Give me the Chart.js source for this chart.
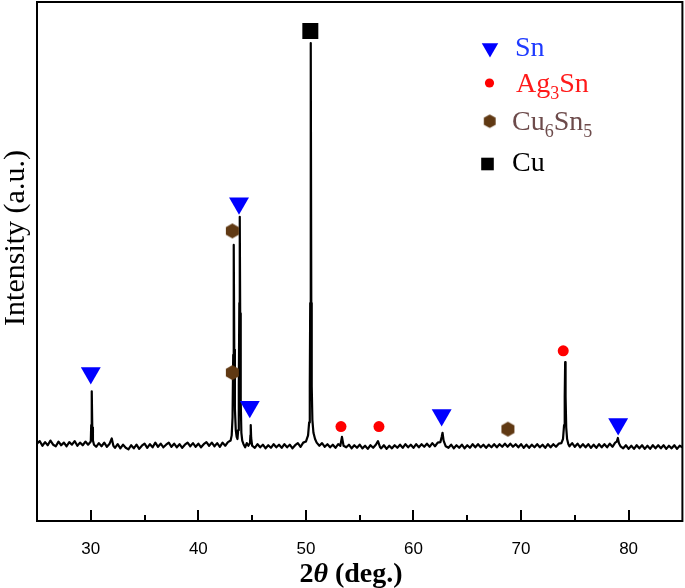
<!DOCTYPE html>
<html>
<head>
<meta charset="utf-8">
<script src="https://cdn.jsdelivr.net/npm/chart.js@4.4.1/dist/chart.umd.min.js"></script>
<style>
html,body{margin:0;padding:0;background:#fff;}
#wrap{width:685px;height:588px;}
</style>
</head>
<body>
<div id="wrap"><canvas id="c" width="685" height="588"></canvas></div>
<script>
// ---- Data ----
const twoTheta = [
25.00,25.25,25.50,25.75,26.00,26.25,26.50,26.75,27.00,27.25,27.50,27.75,28.00,28.25,28.50,28.75,29.00,29.25,29.50,29.75,
30.00,30.04,30.09,30.14,30.20,30.30,30.50,30.75,31.00,31.25,31.50,31.75,31.95,32.10,32.25,32.50,32.75,33.00,33.25,33.50,33.75,
34.00,34.25,34.50,34.75,35.00,35.25,35.50,35.75,36.00,36.25,36.50,36.75,37.00,37.25,37.50,37.75,38.00,38.25,38.50,38.75,
39.00,39.25,39.50,39.75,40.00,40.25,40.50,40.75,41.00,41.25,41.50,41.75,42.00,42.25,42.50,42.75,43.00,
43.10,43.18,43.24,43.29,43.34,43.40,43.48,43.56,43.64,43.70,43.76,43.81,43.85,43.89,43.94,44.00,44.08,44.20,44.35,44.50,44.65,
44.80,44.84,44.87,44.91,45.00,45.25,45.50,45.75,46.00,46.25,46.50,46.75,47.00,47.25,47.50,47.75,48.00,48.25,48.50,48.75,
49.00,49.25,49.50,49.75,50.00,50.20,50.30,50.36,50.40,50.45,50.50,50.54,50.60,50.70,50.85,51.00,51.25,51.50,51.75,
52.00,52.25,52.50,52.75,53.00,53.20,53.35,53.50,53.75,54.00,54.25,54.50,54.75,55.00,55.25,55.50,55.75,56.00,56.25,56.50,56.70,56.90,
57.00,57.25,57.50,57.75,58.00,58.25,58.50,58.75,59.00,59.25,59.50,59.75,60.00,60.25,60.50,60.75,61.00,61.25,61.50,61.75,
62.00,62.25,62.50,62.62,62.70,62.80,63.00,63.25,63.50,63.75,64.00,64.25,64.50,64.75,65.00,65.25,65.50,65.75,66.00,66.25,66.50,66.75,
67.00,67.25,67.50,67.75,68.00,68.25,68.50,68.75,69.00,69.25,69.50,69.75,70.00,70.25,70.50,70.75,71.00,71.25,71.50,71.75,
72.00,72.25,72.50,72.75,73.00,73.25,73.50,73.75,73.90,74.00,74.06,74.10,74.14,74.20,74.28,74.40,74.50,74.75,75.00,75.25,75.50,75.75,
76.00,76.25,76.50,76.75,77.00,77.25,77.50,77.75,78.00,78.25,78.50,78.75,78.90,79.00,79.10,79.25,79.50,79.75,
80.00,80.25,80.50,80.75,81.00,81.25,81.50,81.75,82.00,82.25,82.50,82.75,83.00,83.25,83.50,83.75,84.00,84.25,84.50,84.75,85.00
];
const intensity = [
149,154,145,152,146,155,147,144,153,146,151,144,152,147,154,145,151,146,153,147,
153,185,250,180,155,147,143,150,144,151,143,149,159,145,141,148,140,147,141,138,146,
140,147,139,145,149,141,148,142,151,143,149,142,147,151,143,149,142,148,141,147,
151,144,150,143,149,142,148,152,145,151,144,150,143,151,145,152,155,
165,200,320,532,330,215,175,162,158,175,260,420,586,400,230,170,155,148,142,150,145,
150,165,185,160,145,141,148,142,147,140,146,141,148,142,147,141,148,142,147,140,
146,150,143,151,153,165,190,260,420,921,420,260,195,170,158,151,145,150,143,
148,142,147,141,148,145,162,145,142,147,140,146,141,147,140,145,139,146,141,147,154,142,
140,146,139,145,140,146,141,147,141,148,142,147,141,148,142,148,143,149,143,150,
144,151,152,162,170,155,144,141,147,140,146,141,147,140,146,141,148,142,148,142,147,141,
147,142,148,142,148,143,149,143,149,143,148,142,148,141,147,141,147,142,148,142,
147,141,148,142,148,143,149,150,158,185,240,306,240,180,158,148,144,150,143,149,142,148,
142,148,141,147,141,148,142,148,142,149,143,151,153,160,150,144,140,146,
139,145,139,146,140,146,139,145,139,146,140,146,140,146,139,145,140,146,139,145,142
];
const xTicks = [30, 40, 50, 60, 70, 80];
const xMinorTicks = [35, 45, 55, 65, 75];

// Phase marker positions (2theta, height)
const snMarkX = [30.0, 43.78, 44.78, 62.62, 79.03];
const snMarkY = [285, 612, 220, 204, 187];
const ag3snMarkX = [53.26, 56.79, 73.92];
const ag3snMarkY = [182, 182, 328];
const cu6sn5MarkX = [43.16, 43.16, 68.78];
const cu6sn5MarkY = [559, 286, 177];
const cuMarkX = [50.41];
const cuMarkY = [944];

// ---- helpers ----
function hexCanvas(r, color) {
  const s = Math.ceil(2 * r + 2);
  const cv = document.createElement('canvas');
  cv.width = s; cv.height = s;
  const g = cv.getContext('2d');
  g.fillStyle = color;
  g.beginPath();
  for (let i = 0; i < 6; i++) {
    const a = Math.PI / 2 + i * Math.PI / 3;
    const px = s / 2 + r * Math.cos(a), py = s / 2 + r * Math.sin(a);
    if (i === 0) g.moveTo(px, py); else g.lineTo(px, py);
  }
  g.closePath(); g.fill();
  return cv;
}
const HEX_COLOR = '#603913';
const hexImg = hexCanvas(7.5, HEX_COLOR);

const pts = (xs, ys) => xs.map((x, i) => ({x: x, y: ys[i]}));

const decor = {
  id: 'decor',
  afterDatasetsDraw(chart) {
    const {ctx, chartArea: a, scales: {x}} = chart;
    ctx.save();
    // frame
    ctx.strokeStyle = '#000';
    ctx.lineWidth = 2;
    ctx.strokeRect(a.left, a.top, a.right - a.left, a.bottom - a.top);
    // inward ticks
    ctx.beginPath();
    xTicks.forEach(v => { const p = Math.round(x.getPixelForValue(v)); ctx.moveTo(p, a.bottom); ctx.lineTo(p, a.bottom - 11); });
    xMinorTicks.forEach(v => { const p = Math.round(x.getPixelForValue(v)); ctx.moveTo(p, a.bottom); ctx.lineTo(p, a.bottom - 6); });
    ctx.stroke();

    // axis titles
    ctx.fillStyle = '#000';
    ctx.textBaseline = 'alphabetic';
    const tx = 351, ty = 582;
    const parts = [
      {t: '2', f: 'bold 28px "Liberation Serif"'},
      {t: '\u03B8', f: 'italic bold 28px "Liberation Serif"'},
      {t: ' (deg.)', f: 'bold 28px "Liberation Serif"'}
    ];
    let tw = 0;
    parts.forEach(p => { ctx.font = p.f; p.w = ctx.measureText(p.t).width; tw += p.w; });
    let cx = tx - tw / 2;
    ctx.textAlign = 'left';
    parts.forEach(p => { ctx.font = p.f; ctx.fillText(p.t, cx, ty); cx += p.w; });

    ctx.save();
    ctx.translate(24, 238);
    ctx.rotate(-Math.PI / 2);
    ctx.font = '30px "Liberation Serif"';
    ctx.textAlign = 'center';
    ctx.fillText('Intensity (a.u.)', 0, 0);
    ctx.restore();

    // legend
    ctx.textAlign = 'left';
    const big = '28px "Liberation Serif"', small = '18px "Liberation Serif"';
    function rich(segs, x0, y0, color) {
      ctx.fillStyle = color;
      let xx = x0;
      segs.forEach(s => {
        ctx.font = s.sub ? small : big;
        ctx.fillText(s.t, xx, y0 + (s.sub ? 7 : 0));
        xx += ctx.measureText(s.t).width;
      });
    }
    // Sn
    ctx.fillStyle = '#0000ff';
    ctx.beginPath();
    const tr = 9.5;
    ctx.moveTo(490, 48 + tr);
    ctx.lineTo(490 - tr * Math.sqrt(3) / 2, 48 - tr / 2);
    ctx.lineTo(490 + tr * Math.sqrt(3) / 2, 48 - tr / 2);
    ctx.closePath(); ctx.fill();
    rich([{t: 'Sn'}], 515, 56, '#1f3bff');
    // Ag3Sn
    ctx.fillStyle = '#ff0000';
    ctx.beginPath(); ctx.arc(489.5, 83, 4.6, 0, Math.PI * 2); ctx.fill();
    rich([{t: 'Ag'}, {t: '3', sub: true}, {t: 'Sn'}], 516, 92, '#ff1a1a');
    // Cu6Sn5
    ctx.drawImage(hexCanvas(6.8, HEX_COLOR), 489.5 - 7.8, 121 - 7.8);
    rich([{t: 'Cu'}, {t: '6', sub: true}, {t: 'Sn'}, {t: '5', sub: true}], 512, 130, '#6d4b4b');
    // Cu
    ctx.fillStyle = '#000';
    ctx.fillRect(487.5 - 6.3, 164 - 6.3, 12.6, 12.6);
    rich([{t: 'Cu'}], 512, 171, '#000');
    ctx.restore();
  }
};

new Chart(document.getElementById('c'), {
  data: {
    datasets: [
      {type: 'line', label: 'XRD', data: pts(twoTheta, intensity), borderColor: '#000', borderWidth: 2.2,
       borderJoinStyle: 'round', pointRadius: 0, tension: 0, fill: false, order: 10},
      {type: 'scatter', label: 'Sn', data: pts(snMarkX, snMarkY), pointStyle: 'triangle', rotation: 180,
       pointRadius: 11.5, backgroundColor: '#0000ff', borderWidth: 0, order: 1},
      {type: 'scatter', label: 'Ag3Sn', data: pts(ag3snMarkX, ag3snMarkY), pointStyle: 'circle',
       pointRadius: 5.5, backgroundColor: '#ff0000', borderWidth: 0, order: 1},
      {type: 'scatter', label: 'Cu6Sn5', data: pts(cu6sn5MarkX, cu6sn5MarkY), pointStyle: hexImg,
       pointRadius: 8, backgroundColor: HEX_COLOR, borderWidth: 0, order: 1},
      {type: 'scatter', label: 'Cu', data: pts(cuMarkX, cuMarkY), pointStyle: 'rect',
       pointRadius: 11.3, backgroundColor: '#000', borderWidth: 0, order: 1}
    ]
  },
  options: {
    responsive: false,
    devicePixelRatio: 1,
    animation: false,
    events: [],
    layout: {autoPadding: false, padding: {left: 37, right: 2.6, top: 2, bottom: 10.6}},
    plugins: {legend: {display: false}, tooltip: {enabled: false}},
    scales: {
      x: {
        type: 'linear', min: 25, max: 85,
        afterBuildTicks: s => { s.ticks = xTicks.map(v => ({value: v})); },
        grid: {display: false, drawTicks: false},
        border: {display: false},
        ticks: {font: {family: '"Liberation Sans"', size: 17}, color: '#000', padding: 18, maxRotation: 0, autoSkip: false}
      },
      y: {type: 'linear', min: 0, max: 1000, display: false}
    }
  },
  plugins: [decor]
});
</script>
</body>
</html>
